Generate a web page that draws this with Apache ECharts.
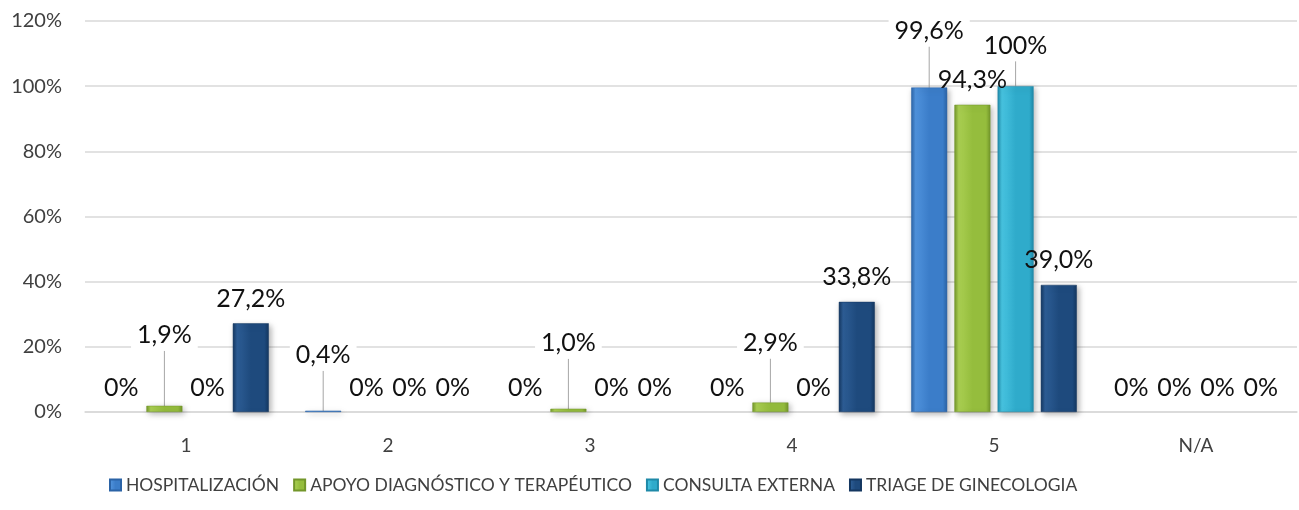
<!DOCTYPE html>
<html>
<head>
<meta charset="utf-8">
<script src="https://cdn.jsdelivr.net/npm/echarts@6/dist/echarts.min.js"></script>
<style>
  html, body { margin: 0; padding: 0; background: #fff; }
  #chart { width: 1299px; height: 510px; }
</style>
</head>
<body>
<div id="chart"></div>
<script>
// categories and series values (percent)
var categories = ['1', '2', '3', '4', '5', 'N/A'];
var seriesNames = ['HOSPITALIZACIÓN', 'APOYO DIAGNÓSTICO Y TERAPÉUTICO', 'CONSULTA EXTERNA', 'TRIAGE DE GINECOLOGIA'];
var hospitalizacion = [0, 0.4, 0, 0, 99.6, 0];
var apoyo = [1.9, 0, 1.0, 2.9, 94.3, 0];
var consulta = [0, 0, 0, 0, 100, 0];
var triage = [27.2, 0, 0, 33.8, 39.0, 0];
var yTicks = [0, 20, 40, 60, 80, 100, 120];

// labels that were dragged up in the original, with a leader line (series -> dataIndex -> lift px)
var movedLabels = {
    0: { 1: -28, 4: -29 },
    1: { 0: -43, 2: -38, 3: -32 },
    2: { 4: -13 }
};

// base / light / dark tones for each series
var palette = [
    ['#3b7dc9', '#4f92dc', '#2b63a6'],
    ['#95bd3d', '#aacf52', '#73962a'],
    ['#2fabcb', '#47c3e0', '#1f89a8'],
    ['#1e4a7d', '#2d5d95', '#143760']
];

function fmt(v) {
    if (v === 0 || v === 100) return v + '%';
    return v.toFixed(1).replace('.', ',') + '%';
}

function barGradient(c) {
    return new echarts.graphic.LinearGradient(0, 0, 1, 0, [
        { offset: 0, color: c[2] },
        { offset: 0.12, color: c[1] },
        { offset: 0.5, color: c[0] },
        { offset: 0.88, color: c[0] },
        { offset: 1, color: c[2] }
    ]);
}

var allValues = [hospitalizacion, apoyo, consulta, triage];

var series = allValues.map(function (vals, si) {
    var moved = movedLabels[si] || {};
    return {
        name: seriesNames[si],
        type: 'bar',
        barWidth: 36,
        barGap: '20%',
        data: vals.map(function (v, di) {
            var item = { value: v };
            if (v === 0) {
                item.itemStyle = { borderWidth: 0, shadowBlur: 0, shadowOffsetX: 0, shadowOffsetY: 0 };
            }
            if (moved[di] !== undefined) {
                item.labelLine = { show: true };
                item.label = { backgroundColor: '#fff', padding: [3, 6] };
            }
            return item;
        }),
        itemStyle: {
            color: barGradient(palette[si]),
            borderColor: palette[si][2],
            borderWidth: 0.5,
            shadowBlur: 6,
            shadowColor: 'rgba(0,0,0,0.3)',
            shadowOffsetX: 2,
            shadowOffsetY: 2
        },
        label: {
            show: true,
            position: 'top',
            distance: 12,
            formatter: function (p) { return fmt(p.value); },
            fontFamily: 'Lato',
            fontSize: 25,
            color: '#111'
        },
        labelLine: {
            show: false,
            lineStyle: { color: '#a6a6a6', width: 1 }
        },
        labelLayout: function (params) {
            var dy = moved[params.dataIndex];
            return dy !== undefined ? { dy: dy } : {};
        }
    };
});

var chart = echarts.init(document.getElementById('chart'));
chart.setOption({
    animation: false,
    grid: { left: 85, right: 2, top: 21, bottom: 98, containLabel: false },
    legend: {
        data: seriesNames,
        left: 104,
        top: 471,
        icon: 'rect',
        itemWidth: 11,
        itemHeight: 11,
        itemGap: 14,
        textStyle: { fontFamily: 'Lato', fontSize: 17.5, color: '#404040' }
    },
    xAxis: {
        type: 'category',
        data: categories,
        axisTick: { show: false },
        axisLine: { lineStyle: { color: '#d9d9d9', width: 1.5 } },
        axisLabel: { fontFamily: 'Lato', fontSize: 19, color: '#404040', margin: 24 }
    },
    yAxis: {
        type: 'value',
        min: yTicks[0],
        max: yTicks[yTicks.length - 1],
        interval: 20,
        axisLine: { show: false },
        axisTick: { show: false },
        splitLine: { lineStyle: { color: '#d9d9d9', width: 1.5 } },
        axisLabel: {
            fontFamily: 'Lato', fontSize: 20, color: '#404040', margin: 23,
            formatter: function (v) { return v + '%'; }
        }
    },
    series: series
});
</script>
</body>
</html>
